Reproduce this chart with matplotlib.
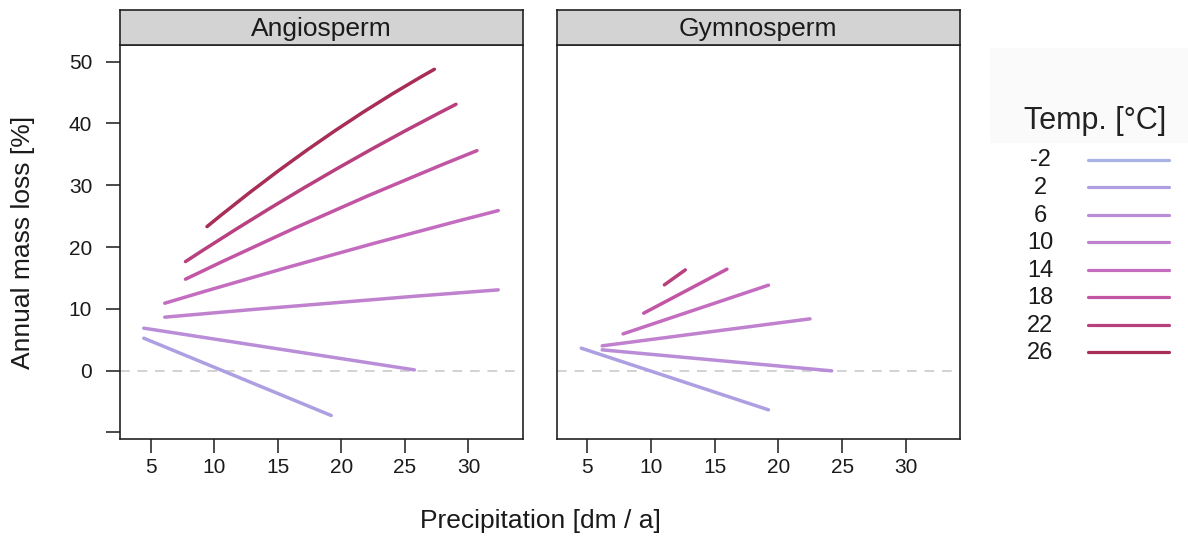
import matplotlib
matplotlib.use("Agg")
import matplotlib.pyplot as plt
from matplotlib.patches import Rectangle, PathPatch
from matplotlib.path import Path

plt.rcParams['font.family'] = ['Liberation Sans', 'DejaVu Sans']

# ---- data -------------------------------------------------------------
legend_temps = [-2, 2, 6, 10, 14, 18, 22, 26]
legend_colors = ['#A9B3E3', '#AE9FE2', '#B98DD7', '#C081CF',
                 '#C46CBF', '#C355A5', '#B8407E', '#A82E55']

# each fitted curve: start, middle, end (precipitation, mass loss)
angio_temps = [2, 6, 10, 14, 18, 22, 26]
angio_prec = [
    [4.47, 19.21],
    [4.47, 25.75],
    [6.12, 19.23, 32.34],
    [6.12, 19.23, 32.34],
    [7.75, 19.21, 30.67],
    [7.75, 18.39, 29.02],
    [9.44, 18.38, 27.32],
]
angio_loss = [
    [5.24, -7.28],
    [6.86, 0.11],
    [8.64, 10.95, 13.06],
    [10.90, 18.70, 25.89],
    [14.79, 25.70, 35.60],
    [17.64, 31.17, 43.10],
    [23.30, 37.24, 48.77],
]

gymno_temps = [2, 6, 10, 14, 18, 22]
gymno_prec = [
    [4.53, 19.22],
    [6.17, 24.18],
    [6.17, 22.48],
    [7.81, 19.22],
    [9.43, 15.96],
    [11.05, 12.69],
]
gymno_loss = [
    [3.62, -6.36],
    [3.35, -0.05],
    [4.00, 8.37],
    [5.94, 13.82],
    [9.29, 16.41],
    [13.87, 16.29],
]

panel_titles = ['Angiosperm', 'Gymnosperm']
x_ticks = [5, 10, 15, 20, 25, 30]
y_ticks = [-10, 0, 10, 20, 30, 40, 50]
y_tick_labels = ['', '0', '10', '20', '30', '40', '50']

# ---- figure -----------------------------------------------------------
W, H = 1188, 544
fig = plt.figure(figsize=(W / 100, H / 100), dpi=100)


def px_rect(x0, y0, x1, y1):
    """Convert a pixel box (top-left origin) into figure fractions."""
    return [x0 / W, 1 - y1 / H, (x1 - x0) / W, (y1 - y0) / H]


def draw_curve(ax, xs, ys, color):
    """Straight segment for two points; smooth quadratic curve through
    start, middle and end for three points."""
    if len(xs) == 2:
        ax.plot(xs, ys, color=color, lw=2.5, solid_capstyle='round',
                zorder=3)
        return
    (x0, xm, x1), (y0, ym, y1) = xs, ys
    cx, cy = 2 * xm - (x0 + x1) / 2, 2 * ym - (y0 + y1) / 2
    path = Path([(x0, y0), (cx, cy), (x1, y1)],
                [Path.MOVETO, Path.CURVE3, Path.CURVE3])
    ax.add_patch(PathPatch(path, facecolor='none', edgecolor=color,
                           lw=2.5, capstyle='round', zorder=3))


color_of = dict(zip(legend_temps, legend_colors))
text_col = '#1a1a1a'

panels = [(120, 522.5), (556.7, 960)]
data_sets = [(angio_temps, angio_prec, angio_loss),
             (gymno_temps, gymno_prec, gymno_loss)]

for i, ((x0, x1), (temps, precs, losses), title) in enumerate(
        zip(panels, data_sets, panel_titles)):
    ax = fig.add_axes(px_rect(x0, 45, x1, 438.5))
    ax.set_xlim(2.6, 34.25)
    ax.set_ylim(-11, 52.7)
    ax.axhline(0, color='#D2D2D2', lw=1.4, ls=(0, (5, 4)), zorder=1)
    for t, xs, ys in zip(temps, precs, losses):
        draw_curve(ax, xs, ys, color_of[t])
    for s in ax.spines.values():
        s.set_linewidth(1.2)
        s.set_color('#222222')
    ax.set_xticks(x_ticks)
    ax.tick_params(axis='x', direction='out', length=10, width=1.1,
                   pad=4, labelsize=15, colors=text_col)
    if i == 0:
        ax.set_yticks(y_ticks)
        ax.set_yticklabels(y_tick_labels)
        ax.tick_params(axis='y', direction='out', length=10, width=1.1,
                       pad=10, labelsize=15, colors=text_col)
    else:
        ax.set_yticks([])

    # strip header
    sax = fig.add_axes(px_rect(x0, 10, x1, 45))
    sax.set_facecolor('#D3D3D3')
    sax.set_xticks([])
    sax.set_yticks([])
    for s in sax.spines.values():
        s.set_linewidth(1.2)
        s.set_color('#222222')
    sax.text(0.5, 0.47, title, ha='center', va='center', fontsize=19,
             color=text_col, transform=sax.transAxes)

fig.text(23 / W, 1 - 242 / H, 'Annual mass loss [%]', rotation=90,
         ha='center', va='center', fontsize=19, color=text_col)
fig.text(540 / W, 1 - 521 / H, 'Precipitation [dm / a]',
         ha='center', va='center', fontsize=19, color=text_col)

# ---- legend -----------------------------------------------------------
lax = fig.add_axes([0, 0, 1, 1])
lax.set_xlim(0, W)
lax.set_ylim(H, 0)
lax.axis('off')
lax.add_patch(Rectangle((990, 48), 198, 95, facecolor='#FAFAFA',
                        edgecolor='none', zorder=0))
lax.text(1095, 121, 'Temp. [°C]', ha='center', va='center',
         fontsize=22, color='#222222')
for k, (t, c) in enumerate(zip(legend_temps, legend_colors)):
    yy = 159.5 + k * 27.55
    lax.plot([1088, 1169], [yy, yy], color=c, lw=2.3,
             solid_capstyle='round')
    lax.text(1040, yy + 1, str(t), ha='center', va='center',
             fontsize=17, color=text_col)

fig.savefig('out.png', dpi=100)
